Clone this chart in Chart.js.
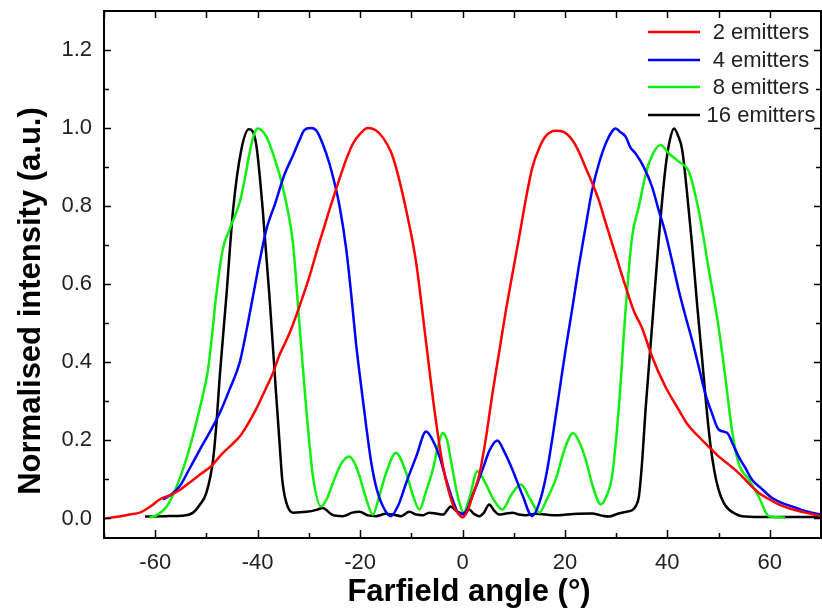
<!DOCTYPE html>
<html>
<head>
<meta charset="utf-8">
<title>Farfield</title>
<script src="https://cdn.jsdelivr.net/npm/chart.js@4.4.1/dist/chart.umd.min.js"></script>
<style>
    html, body { margin: 0; padding: 0; background: #fff; }
    canvas { display: block; }
</style>
</head>
<body>
<canvas id="farfieldChart" width="822" height="611"></canvas>
<script>
// values
const angles2 = [-70, -67, -65, -63, -61, -59, -57, -55, -53, -51, -49, -47, -45, -43.5, -42, -40.3, -38.5, -37, -35.7, -34.8, -33.3, -31.8, -30, -28, -26, -24.1, -22.7, -21.4, -20, -18.5, -17, -15.5, -14, -13, -11, -9.1, -7.1, -5.5, -3.9, -2, -0.8, 0, 1, 2, 3.25, 4.5, 5.85, 7.2, 8.5, 9.8, 11.05, 12.4, 13.65, 15, 16.3, 18.2, 19.8, 21.4, 22.7, 24, 25.3, 26.6, 27.9, 29.2, 30.5, 31.85, 33.5, 35, 37, 39.6, 42.2, 44, 46.1, 48, 50, 52, 53.9, 55.9, 57.8, 59.8, 61.7, 63.6, 65.6, 68, 70];
const intensity2 = [0.0, 0.005, 0.01, 0.015, 0.03, 0.05, 0.06, 0.075, 0.095, 0.115, 0.135, 0.165, 0.19, 0.21, 0.24, 0.28, 0.33, 0.373, 0.42, 0.445, 0.49, 0.545, 0.615, 0.705, 0.79, 0.867, 0.92, 0.96, 0.985, 1.0, 0.995, 0.975, 0.94, 0.9, 0.79, 0.66, 0.45, 0.28, 0.14, 0.04, 0.012, 0.003, 0.02, 0.06, 0.11, 0.2, 0.32, 0.43, 0.535, 0.63, 0.72, 0.82, 0.9, 0.95, 0.98, 0.993, 0.99, 0.97, 0.94, 0.9, 0.86, 0.816, 0.76, 0.705, 0.65, 0.594, 0.53, 0.49, 0.415, 0.338, 0.279, 0.24, 0.21, 0.185, 0.159, 0.138, 0.117, 0.09, 0.066, 0.05, 0.036, 0.027, 0.019, 0.012, 0.006];

const angles4 = [-58.5, -57, -55.2, -53.2, -51.3, -49.4, -47.4, -45.5, -43.5, -42.2, -40.9, -39.6, -38.3, -36.5, -34.8, -33.1, -31.8, -30.9, -29.7, -28.6, -27.3, -26, -25, -24, -22.7, -21.7, -20.8, -19.8, -18.8, -17.9, -16.9, -15.5, -14, -12.5, -11, -9, -7.1, -5.8, -4.5, -3.2, -1.95, -0.6, 0.5, 2, 3.9, 5.3, 6.8, 8.2, 9.75, 11.7, 13.6, 15, 16.3, 17.6, 18.85, 20.1, 21.4, 22.7, 24.05, 25.3, 26.65, 28.3, 29.9, 30.8, 31.85, 32.8, 33.8, 35.4, 37, 38.3, 39.65, 41, 42.2, 43.5, 44.8, 46.1, 47.4, 48.7, 50, 51.7, 52.8, 53.9, 55.2, 56.5, 58.5, 60.4, 62.3, 64.3, 66.2, 68.2, 70];
const intensity4 = [0.049, 0.06, 0.083, 0.13, 0.176, 0.22, 0.27, 0.33, 0.4, 0.48, 0.57, 0.66, 0.74, 0.81, 0.88, 0.93, 0.97, 0.995, 1.0, 0.995, 0.96, 0.91, 0.86, 0.8, 0.69, 0.57, 0.45, 0.34, 0.236, 0.15, 0.083, 0.03, 0.006, 0.035, 0.091, 0.16, 0.223, 0.2, 0.159, 0.1, 0.049, 0.012, 0.015, 0.06, 0.125, 0.175, 0.2, 0.17, 0.125, 0.06, 0.006, 0.04, 0.108, 0.21, 0.32, 0.43, 0.535, 0.645, 0.748, 0.84, 0.91, 0.97, 0.999, 0.99, 0.978, 0.95, 0.935, 0.9, 0.85, 0.79, 0.73, 0.655, 0.586, 0.52, 0.458, 0.39, 0.32, 0.27, 0.228, 0.219, 0.19, 0.159, 0.13, 0.1, 0.075, 0.053, 0.04, 0.031, 0.022, 0.015, 0.01];

const angles8 = [-61.1, -59.5, -57.8, -56.2, -54.6, -53.3, -52, -50.8, -49.7, -48.9, -48.1, -46.8, -45.5, -43.5, -42.5, -41.6, -40.8, -40, -38.3, -36.4, -35.5, -34.4, -33.1, -31.8, -30.5, -29.2, -27.6, -26.5, -25.3, -23.7, -22.1, -21, -20.1, -18.8, -17.5, -16.2, -14.9, -13, -11, -9.7, -8.4, -7.1, -5.8, -4.5, -3.9, -3, -2.3, -1.3, -0.6, 0.2, 1.5, 2.9, 4.5, 6, 7.8, 9.5, 11.4, 13.2, 15, 16.5, 18.2, 20, 21.6, 23, 24.05, 25.5, 27, 28.2, 29.2, 30.5, 31.85, 33.1, 34.45, 35.4, 36.4, 38.7, 40.3, 42.2, 44.2, 46.1, 48.1, 50, 51.3, 52.6, 53.9, 55.9, 57.8, 59.8, 61.5, 63];
const intensity8 = [0.002, 0.01, 0.03, 0.07, 0.125, 0.18, 0.245, 0.31, 0.38, 0.47, 0.57, 0.69, 0.74, 0.81, 0.87, 0.935, 0.98, 0.999, 0.978, 0.91, 0.87, 0.807, 0.705, 0.49, 0.28, 0.108, 0.031, 0.05, 0.091, 0.14, 0.159, 0.14, 0.108, 0.05, 0.01, 0.06, 0.117, 0.168, 0.117, 0.06, 0.023, 0.07, 0.125, 0.2, 0.219, 0.2, 0.151, 0.08, 0.04, 0.015, 0.06, 0.121, 0.09, 0.05, 0.023, 0.06, 0.087, 0.05, 0.015, 0.05, 0.1, 0.18, 0.219, 0.19, 0.151, 0.08, 0.036, 0.06, 0.108, 0.28, 0.535, 0.72, 0.8, 0.86, 0.91, 0.957, 0.935, 0.914, 0.888, 0.79, 0.637, 0.49, 0.364, 0.228, 0.142, 0.1, 0.057, 0.006, 0.003, 0.002];

const angles16 = [-62, -58, -55, -52.6, -51.3, -50, -48.7, -48, -47.4, -46.1, -44.8, -43.2, -41.7, -40.3, -39, -37.7, -36.4, -35.7, -35.2, -34.5, -33.1, -30.5, -28.5, -27.3, -25.5, -23.4, -21.5, -20.1, -18.5, -16.9, -15, -13.6, -12, -10.4, -9, -7.8, -6.5, -5.2, -3.8, -2.3, -1.3, -0.6, 0.3, 1.3, 2.2, 3.25, 4.2, 5.2, 6.2, 7.15, 8.5, 9.75, 11, 12.35, 14.3, 16.3, 18.3, 20.2, 22.5, 25.3, 27, 28.6, 30.3, 31.85, 33.2, 33.8, 34.45, 35.1, 35.75, 37, 38.35, 39.65, 40.5, 41.3, 42.1, 42.9, 43.8, 44.8, 45.8, 46.8, 47.6, 48.4, 49.2, 50, 51, 52, 53.3, 54.6, 58, 62, 66, 70];
const intensity16 = [0.005, 0.006, 0.007, 0.015, 0.035, 0.066, 0.151, 0.25, 0.364, 0.57, 0.79, 0.944, 0.997, 0.96, 0.79, 0.57, 0.32, 0.19, 0.1, 0.045, 0.015, 0.017, 0.022, 0.027, 0.01, 0.006, 0.015, 0.017, 0.008, 0.006, 0.012, 0.01, 0.006, 0.017, 0.01, 0.008, 0.015, 0.013, 0.01, 0.031, 0.02, 0.015, 0.01, 0.023, 0.012, 0.006, 0.015, 0.036, 0.02, 0.01, 0.013, 0.015, 0.01, 0.008, 0.012, 0.01, 0.008, 0.01, 0.012, 0.013, 0.008, 0.005, 0.012, 0.017, 0.022, 0.031, 0.057, 0.15, 0.28, 0.49, 0.72, 0.9, 0.97, 0.999, 0.98, 0.944, 0.84, 0.705, 0.55, 0.407, 0.29, 0.19, 0.12, 0.074, 0.04, 0.023, 0.012, 0.006, 0.004, 0.004, 0.004, 0.004];

const seriesLabels = ['2 emitters', '4 emitters', '8 emitters', '16 emitters'];
const seriesColors = ['#ff0000', '#0000ff', '#11ee11', '#000000'];

const xTickValues = [-60, -40, -20, 0, 20, 40, 60];
const xMinorTicks = [-70, -50, -30, -10, 10, 30, 50, 70];
const yTickValues = [0, 0.2, 0.4, 0.6, 0.8, 1.0, 1.2];
const yMinorTicks = [0.1, 0.3, 0.5, 0.7, 0.9, 1.1];

const FONT = '"Liberation Sans", Arial, sans-serif';

function toPoints(xs, ys) {
    return xs.map((x, i) => ({ x: x, y: ys[i] }));
}

// frame, inward ticks, axis titles and the legend box
const decorations = {
    id: 'decorations',
    afterDatasetsDraw(chart) {
        const ctx = chart.ctx;
        const a = chart.chartArea;
        const xs = chart.scales.x, ys = chart.scales.y;
        ctx.save();
        ctx.strokeStyle = '#000';
        ctx.lineWidth = 2;
        ctx.strokeRect(a.left, a.top, a.right - a.left, a.bottom - a.top);

        ctx.lineWidth = 1.5;
        ctx.beginPath();
        xTickValues.concat(xMinorTicks).forEach(v => {
            const px = Math.round(xs.getPixelForValue(v)) + 0.5;
            const len = xTickValues.includes(v) ? 8 : 5;
            ctx.moveTo(px, a.bottom); ctx.lineTo(px, a.bottom - len);
            ctx.moveTo(px, a.top); ctx.lineTo(px, a.top + 7);
        });
        yTickValues.concat(yMinorTicks).forEach(v => {
            const py = Math.round(ys.getPixelForValue(v)) + 0.5;
            const len = yTickValues.includes(v) ? 7 : 5;
            ctx.moveTo(a.left, py); ctx.lineTo(a.left + len, py);
            ctx.moveTo(a.right, py); ctx.lineTo(a.right - len, py);
        });
        ctx.stroke();

        // axis titles
        ctx.fillStyle = '#000';
        ctx.font = 'bold 31px ' + FONT;
        ctx.textAlign = 'center';
        ctx.textBaseline = 'alphabetic';
        ctx.fillText('Farfield angle (°)', 469, 601);
        ctx.save();
        ctx.translate(40, 301);
        ctx.rotate(-Math.PI / 2);
        ctx.fillText('Normalised intensity (a.u.)', 0, 0);
        ctx.restore();

        // legend
        ctx.font = '22px ' + FONT;
        ctx.textBaseline = 'middle';
        ctx.fillStyle = '#222';
        const rows = [32, 60, 87, 115];
        chart.data.datasets.forEach((ds, i) => {
            ctx.strokeStyle = ds.borderColor;
            ctx.lineWidth = 2.5;
            ctx.beginPath();
            ctx.moveTo(648, rows[i]);
            ctx.lineTo(700, rows[i]);
            ctx.stroke();
            ctx.fillText(ds.label, 761, rows[i] + 1);
        });
        ctx.restore();
    }
};

function createChart() {
    const ctx = document.getElementById('farfieldChart').getContext('2d');
    const series = [
        toPoints(angles2, intensity2),
        toPoints(angles4, intensity4),
        toPoints(angles8, intensity8),
        toPoints(angles16, intensity16)
    ];

    return new Chart(ctx, {
        type: 'line',
        data: {
            datasets: series.map((pts, i) => ({
                label: seriesLabels[i],
                data: pts,
                borderColor: seriesColors[i],
                backgroundColor: seriesColors[i],
                borderWidth: 2.5,
                pointRadius: 0,
                cubicInterpolationMode: 'monotone',
                fill: false
            }))
        },
        options: {
            responsive: false,
            animation: false,
            layout: {
                padding: { top: 11, right: 1, left: 0, bottom: 0 }
            },
            plugins: {
                legend: { display: false },
                tooltip: { enabled: false }
            },
            scales: {
                x: {
                    type: 'linear',
                    min: -70,
                    max: 70,
                    grid: { display: false, drawTicks: false },
                    border: { display: false },
                    afterBuildTicks: scale => {
                        scale.ticks = xTickValues.map(v => ({ value: v }));
                    },
                    afterFit: scale => {
                        scale.height = 73;
                        scale.paddingLeft = 0;
                        scale.paddingRight = 0;
                    },
                    ticks: {
                        padding: 12,
                        color: '#222',
                        font: { family: FONT, size: 22 },
                        maxRotation: 0
                    }
                },
                y: {
                    min: -0.05,
                    max: 1.3,
                    grid: { display: false, drawTicks: false },
                    border: { display: false },
                    afterBuildTicks: scale => {
                        scale.ticks = yTickValues.map(v => ({ value: v }));
                    },
                    afterFit: scale => {
                        scale.width = 104;
                        scale.paddingTop = 0;
                        scale.paddingBottom = 0;
                    },
                    ticks: {
                        padding: 12,
                        color: '#222',
                        font: { family: FONT, size: 22 },
                        callback: v => v.toFixed(1)
                    }
                }
            }
        },
        plugins: [decorations]
    });
}

createChart();
</script>
</body>
</html>
